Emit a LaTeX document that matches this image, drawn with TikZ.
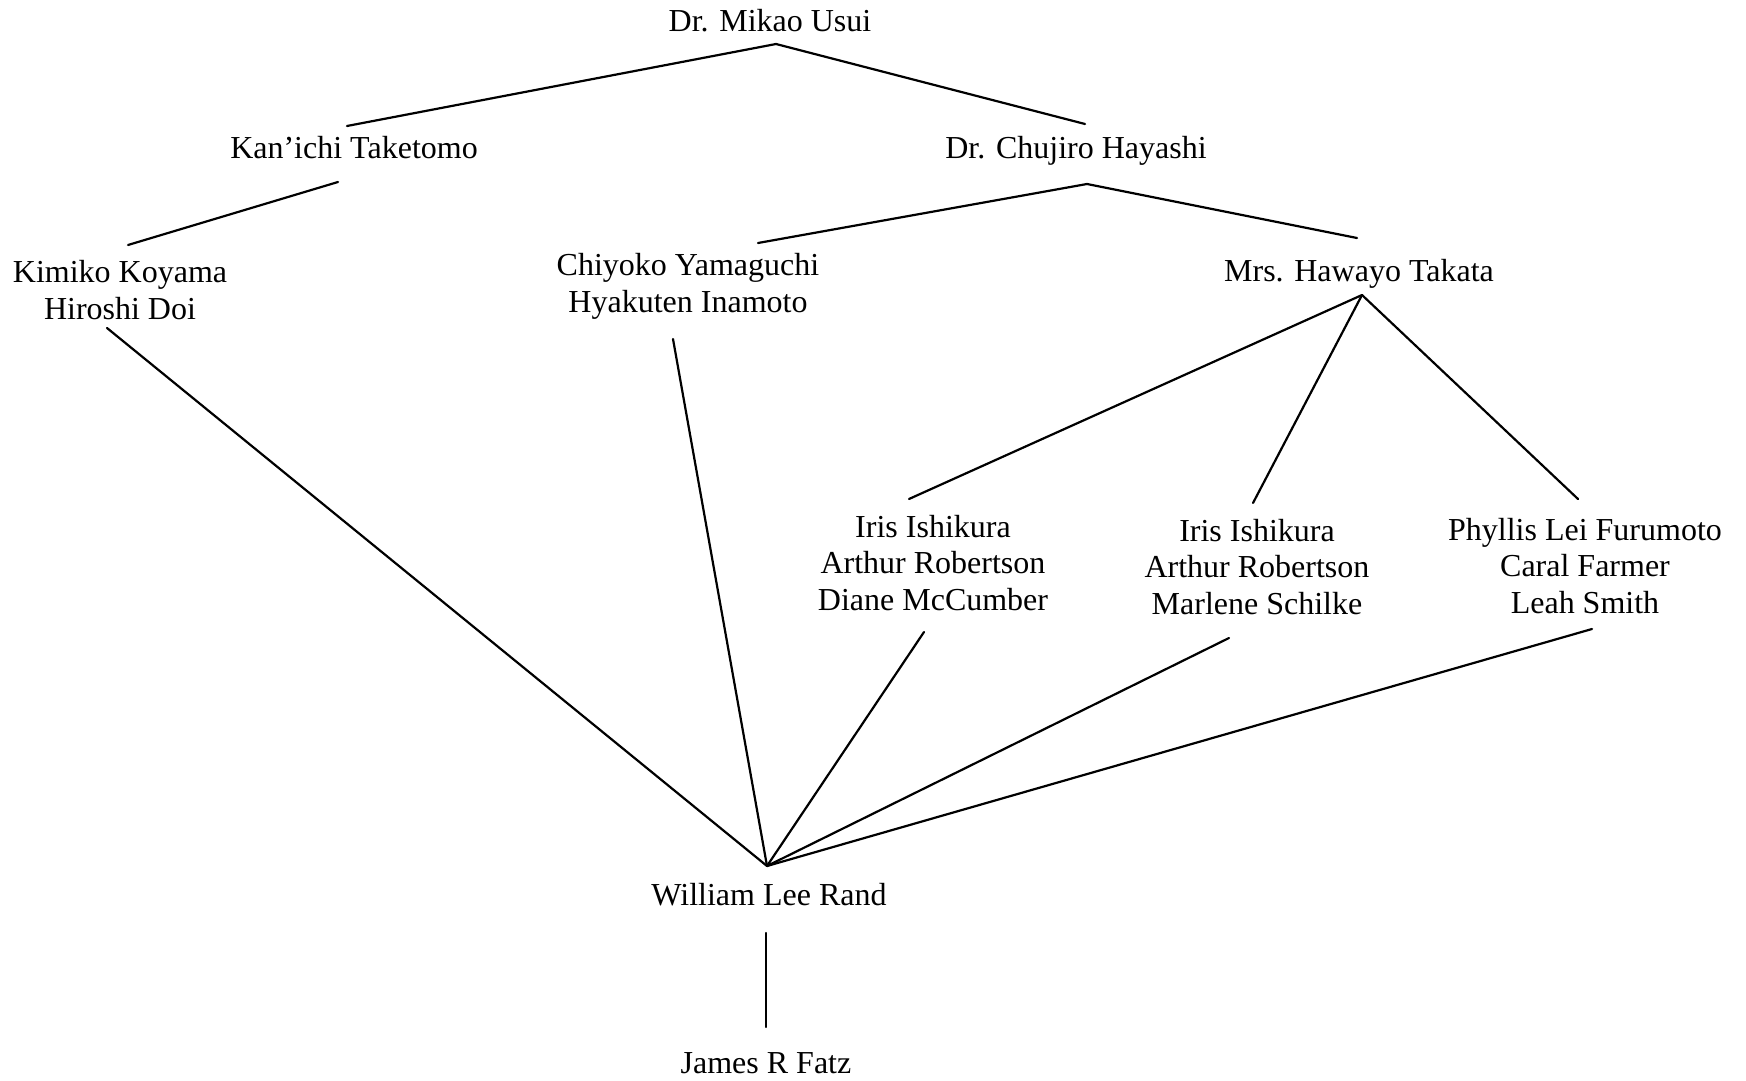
\documentclass[tikz,border=0pt]{standalone}
\usepackage{fontspec}
\setmainfont{Liberation Serif}
\tikzstyle{person} = [align=center, inner sep=0pt, anchor=base, font=\fontsize{16}{18.25}\selectfont]
\tikzstyle{link} = [line width=1.1pt, line cap=round]

\begin{document}
\begin{tikzpicture}[x=0.5pt, y=-0.5pt]
	\useasboundingbox (0,0) rectangle (1746,1081);

	% names, placed at the baseline of their last line
	\node (usui) [person] at (770,32) {Dr. Mikao Usui};
	\node (taketomo) [person] at (354,159) {Kan'ichi Taketomo};
	\node (hayashi) [person] at (1076,159) {Dr. Chujiro Hayashi};
	\node (koyama) [person] at (120,319) {Kimiko Koyama\\Hiroshi Doi};
	\node (yamaguchi) [person] at (688,312) {Chiyoko Yamaguchi\\Hyakuten Inamoto};
	\node (takata) [person] at (1359,281) {Mrs. Hawayo Takata};
	\node (mccumber) [person] at (933,610) {Iris Ishikura\\Arthur Robertson\\Diane McCumber};
	\node (schilke) [person] at (1257,614) {Iris Ishikura\\Arthur Robertson\\Marlene Schilke};
	\node (furumoto) [person] at (1585,613) {Phyllis Lei Furumoto\\Caral Farmer\\Leah Smith};
	\node (rand) [person] at (769,905) {William Lee Rand};
	\node (fatz) [person] at (766,1073) {James R Fatz};

	% line ends
	\coordinate (usui-foot) at (776,44);
	\coordinate (taketomo-head) at (347,126);
	\coordinate (taketomo-foot) at (338,182);
	\coordinate (hayashi-head) at (1085,124);
	\coordinate (hayashi-foot) at (1087,184);
	\coordinate (koyama-head) at (128,245);
	\coordinate (koyama-foot) at (107,328);
	\coordinate (yamaguchi-head) at (758,243);
	\coordinate (yamaguchi-foot) at (673,339);
	\coordinate (takata-head) at (1357,238);
	\coordinate (takata-foot) at (1362,295);
	\coordinate (mccumber-head) at (909,499);
	\coordinate (mccumber-foot) at (924,632);
	\coordinate (schilke-head) at (1253,503);
	\coordinate (schilke-foot) at (1229,638);
	\coordinate (furumoto-head) at (1578,499);
	\coordinate (furumoto-foot) at (1592,629);
	\coordinate (rand-head) at (767,866);
	\coordinate (rand-foot) at (766,933);
	\coordinate (fatz-head) at (766,1027);

	\draw [link] (taketomo-head) -- (usui-foot) -- (hayashi-head);
	\draw [link] (taketomo-foot) -- (koyama-head);
	\draw [link] (yamaguchi-head) -- (hayashi-foot) -- (takata-head);
	\draw [link] (takata-foot) -- (mccumber-head);
	\draw [link] (takata-foot) -- (schilke-head);
	\draw [link] (takata-foot) -- (furumoto-head);
	\draw [link] (koyama-foot) -- (rand-head);
	\draw [link] (yamaguchi-foot) -- (rand-head);
	\draw [link] (mccumber-foot) -- (rand-head);
	\draw [link] (schilke-foot) -- (rand-head);
	\draw [link] (furumoto-foot) -- (rand-head);
	\draw [link] (rand-foot) -- (fatz-head);
\end{tikzpicture}
\end{document}
